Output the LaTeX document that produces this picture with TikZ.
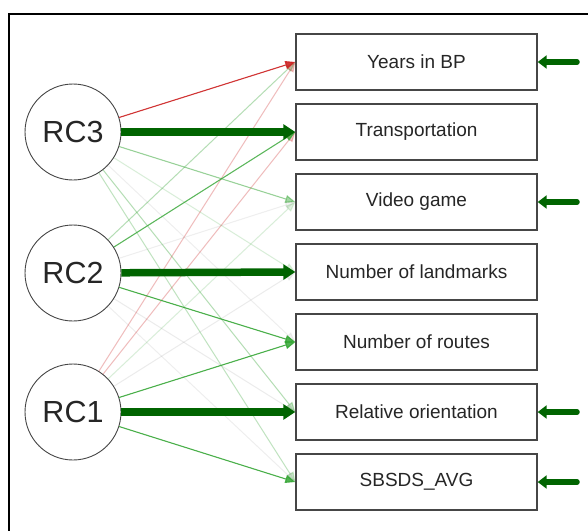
\documentclass[tikz,border=0pt]{standalone}
\usepackage{fontspec}
\setmainfont{Liberation Sans}
\usetikzlibrary{arrows.meta}
\definecolor{dkgreen}{RGB}{0,100,0}
\definecolor{mgreen}{RGB}{50,165,50}
\definecolor{ered}{RGB}{205,35,35}
\definecolor{boxgray}{RGB}{70,70,70}
\tikzset{
  rc/.style={circle,draw=boxgray,line width=0.9pt,minimum size=96pt,inner sep=0pt,font=\fontsize{30.5}{32}\selectfont,text=black!85},
  var/.style={rectangle,draw=boxgray,line width=1.4pt,minimum width=241pt,minimum height=56pt,inner sep=0pt,font=\fontsize{19}{21}\selectfont,text=black!85},
  thin/.style={line width=1.1pt,-{Triangle[length=10pt,width=8pt]}},
  strong/.style={draw=dkgreen,line width=7.5pt,-{Triangle[length=12pt,width=15pt]}},
  gr/.style={thin,draw=mgreen,fill=mgreen,draw opacity=#1,fill opacity=#1},
  rd/.style={thin,draw=ered,fill=ered,draw opacity=#1,fill opacity=#1},
  gy/.style={thin,draw=gray,fill=gray,draw opacity=#1,fill opacity=#1},
  side/.style={draw=dkgreen,line width=5.5pt,line cap=round,-{Triangle[length=9pt,width=13pt]}}
}
\begin{document}
\begin{tikzpicture}[x=1pt,y=-1pt]
\useasboundingbox (0,0) rectangle (588,530);
\fill[white] (0,0) rectangle (588,530);
\begin{scope}
\clip (0,0) rectangle (588,530);
\draw[line width=2pt] (9,14) rectangle (620,560);
\end{scope}
\node[rc] (rc3) at (73,132) {RC3};
\node[rc] (rc2) at (73,273) {RC2};
\node[rc] (rc1) at (73,412) {RC1};
\node[var] (v1) at (416.5,62) {Years in BP};
\node[var] (v2) at (416.5,132) {Transportation};
\node[var] (v3) at (416.5,202) {Video game};
\node[var] (v4) at (416.5,272) {Number of landmarks};
\node[var] (v5) at (416.5,342) {Number of routes};
\node[var] (v6) at (416.5,412) {Relative orientation};
\node[var] (v7) at (416.5,482) {SBSDS\_AVG};
% faint edges first
\draw[gy=0.10] (rc3) -- (v5.west);
\draw[gr=0.15] (rc3) -- (v4.west);
\draw[gr=0.30] (rc3) -- (v6.west);
\draw[gr=0.25] (rc3) -- (v7.west);
\draw[gr=0.30] (rc2) -- (v1.west);
\draw[gy=0.10] (rc2) -- (v3.west);
\draw[gy=0.12] (rc2) -- (v6.west);
\draw[gy=0.10] (rc2) -- (v7.west);
\draw[rd=0.25] (rc1) -- (v1.west);
\draw[rd=0.25] (rc1) -- (v2.west);
\draw[gr=0.15] (rc1) -- (v3.west);
\draw[gy=0.12] (rc1) -- (v4.west);
% clearer edges
\draw[gr=0.45] (rc3) -- (v3.west);
\draw[gr=0.75] (rc2) -- (v2.west);
\draw[gr=0.85] (rc2) -- (v5.west);
\draw[gr=0.85] (rc1) -- (v5.west);
\draw[gr=0.85] (rc1) -- (v7.west);
\draw[rd=0.9] (rc3) -- (v1.west);
% strong edges
\draw[strong] (rc3) -- (v2.west);
\draw[strong] (rc2) -- (v4.west);
\draw[strong] (rc1) -- (v6.west);
% side arrows
\coordinate (s1) at (577,62);
\coordinate (s3) at (577,202);
\coordinate (s6) at (577,412);
\coordinate (s7) at (577,482);
\draw[side] (s1) -- (v1.east);
\draw[side] (s3) -- (v3.east);
\draw[side] (s6) -- (v6.east);
\draw[side] (s7) -- (v7.east);
\end{tikzpicture}
\end{document}
